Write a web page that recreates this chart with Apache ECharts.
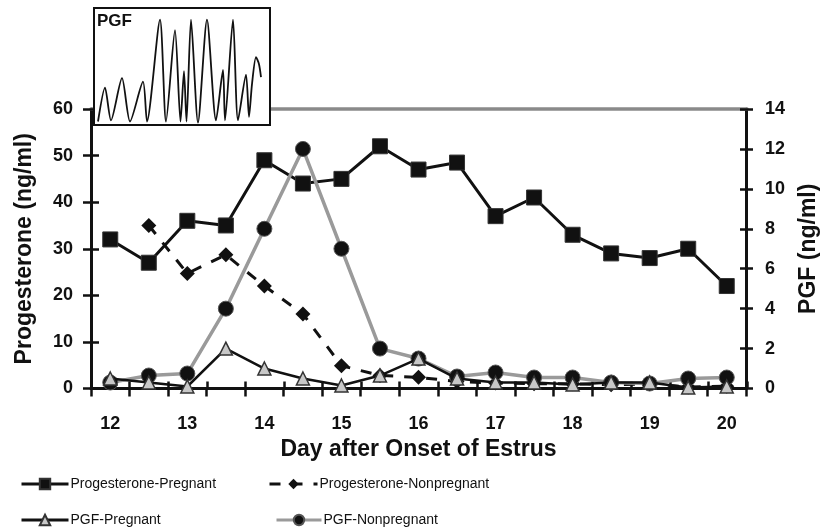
<!DOCTYPE html>
<html>
<head>
<meta charset="utf-8">
<script src="https://cdn.jsdelivr.net/npm/echarts@6/dist/echarts.min.js"></script>
<style>html,body{margin:0;padding:0;background:#fff;}#c{width:828px;height:531px;}</style>
</head>
<body>
<div id="c"></div>
<script>
var days = ['12','12.5','13','13.5','14','14.5','15','15.5','16','16.5','17','17.5','18','18.5','19','19.5','20'];
var progPregnant    = [32, 27, 36, 35, 49, 44, 45, 52, 47, 48.5, 37, 41, 33, 29, 28, 30, 22];
var progNonpregnant = [null, 35, 24.7, 28.7, 22, 16, 4.9, 2.8, 2.4, 1.5, 1.2, 1.0, 1.0, 0.8, 1.0, 0.3, 0.5];
var pgfPregnant     = [0.5, 0.3, 0.1, 2.0, 1.0, 0.5, 0.15, 0.65, 1.5, 0.5, 0.3, 0.3, 0.2, 0.3, 0.3, 0.05, 0.1];
var pgfNonpregnant  = [0.3, 0.65, 0.75, 4, 8, 12, 7, 2, 1.5, 0.6, 0.8, 0.55, 0.55, 0.3, 0.25, 0.5, 0.55];
var progTicks = [0, 10, 20, 30, 40, 50, 60];
var pgfTicks = [0, 2, 4, 6, 8, 10, 12, 14];
var pulseX = [4, 11, 17, 28, 36, 49, 53, 66, 72, 81, 86.5, 90, 92.5, 97, 104, 113, 122, 129, 131, 139, 144, 152, 155, 158, 162, 165, 167];
var pulseY = [3, 32, 4, 40, 3, 37, 3, 90, 3, 81, 3, 46, 3, 90, 2, 90, 4, 47, 4, 90, 4, 43, 7, 35, 58, 52, 41];

var pulseData = pulseX.map(function (x, i) { return [x, pulseY[i]]; });
var FONT = 'Liberation Sans';
var tickLbl = { color: '#111', fontSize: 18, fontWeight: 'bold', fontFamily: FONT };
var tickStyle = { color: '#111', width: 2.5 };

function legendAt(name, left, top, w) {
  return {
    data: [name], left: left, top: top, itemWidth: w, itemHeight: 13, padding: 0,
    lineStyle: { width: 3 },
    textStyle: { fontFamily: FONT, fontSize: 14, color: '#111', padding: [0, 0, 0, -3] },
    selectedMode: false
  };
}

var chart = echarts.init(document.getElementById('c'), null, { renderer: 'canvas' });
chart.setOption({
  animation: false,
  backgroundColor: '#fff',
  textStyle: { fontFamily: FONT },
  title: {
    text: 'PGF', left: 97, top: 13, z: 12, padding: 0,
    textStyle: { fontSize: 17, fontWeight: 'bold', color: '#111', fontFamily: FONT }
  },
  legend: [
    legendAt('Progesterone-Pregnant', 20, 477, 47),
    legendAt('Progesterone-Nonpregnant', 268, 477, 48),
    legendAt('PGF-Pregnant', 20, 513, 47),
    legendAt('PGF-Nonpregnant', 275, 513, 45)
  ],
  grid: [
    { left: 91, right: 81, top: 109, bottom: 142.5 },
    { left: 94, top: 8, width: 176, height: 117, show: true, backgroundColor: '#fff',
      borderColor: '#111', borderWidth: 2, z: 10 },
    { left: 91, right: 81, top: 109, bottom: 142.5 }
  ],
  xAxis: [
    { type: 'category', data: days, gridIndex: 0, boundaryGap: true, position: 'bottom',
      name: 'Day after Onset of Estrus', nameLocation: 'middle', nameGap: 47,
      nameTextStyle: { fontSize: 23, fontWeight: 'bold', color: '#111', fontFamily: FONT },
      axisLine: { onZero: false, lineStyle: { color: '#111', width: 3 } },
      axisTick: { show: true, interval: 0, length: 8, lineStyle: tickStyle },
      axisLabel: Object.assign({ interval: 1, margin: 27 }, tickLbl),
      splitLine: { show: false } },
    { type: 'value', gridIndex: 1, min: 0, max: 176, show: false },
    { type: 'category', data: days, gridIndex: 2, boundaryGap: true, position: 'bottom',
      axisLine: { show: false, onZero: false },
      axisTick: { show: true, inside: true, interval: 0, length: 7, lineStyle: tickStyle },
      axisLabel: { show: false }, splitLine: { show: false } },
    { type: 'category', data: days, gridIndex: 2, position: 'top',
      axisLine: { show: true, onZero: false, lineStyle: { color: '#8a8a8a', width: 3.5 } },
      axisTick: { show: false }, axisLabel: { show: false }, splitLine: { show: false } }
  ],
  yAxis: [
    { type: 'value', gridIndex: 0, min: progTicks[0], max: progTicks[progTicks.length - 1], interval: 10,
      position: 'left',
      name: 'Progesterone (ng/ml)', nameLocation: 'middle', nameGap: 55,
      nameTextStyle: { fontSize: 23, fontWeight: 'bold', color: '#111', fontFamily: FONT },
      axisLine: { show: true, onZero: false, lineStyle: { color: '#111', width: 3 } },
      axisTick: { show: true, length: 8, lineStyle: tickStyle },
      axisLabel: Object.assign({ margin: 18 }, tickLbl),
      splitLine: { show: false } },
    { type: 'value', gridIndex: 0, min: pgfTicks[0], max: pgfTicks[pgfTicks.length - 1], interval: 2,
      position: 'right',
      name: 'PGF (ng/ml)', nameLocation: 'middle', nameGap: 51,
      nameTextStyle: { fontSize: 23, fontWeight: 'bold', color: '#111', fontFamily: FONT },
      axisLine: { show: true, onZero: false, lineStyle: { color: '#111', width: 3 } },
      axisTick: { show: true, length: 7, lineStyle: tickStyle },
      axisLabel: Object.assign({ margin: 19 }, tickLbl),
      splitLine: { show: false } },
    { type: 'value', gridIndex: 1, min: 0, max: 100, show: false },
    { type: 'value', gridIndex: 2, min: 0, max: 60, interval: 10, position: 'left',
      axisLine: { show: false, onZero: false },
      axisTick: { show: true, inside: true, length: 8, lineStyle: tickStyle },
      axisLabel: { show: false }, splitLine: { show: false } },
    { type: 'value', gridIndex: 2, min: 0, max: 14, interval: 2, position: 'right',
      axisLine: { show: false, onZero: false },
      axisTick: { show: true, inside: true, length: 7, lineStyle: tickStyle },
      axisLabel: { show: false }, splitLine: { show: false } }
  ],
  series: [
    { name: 'Progesterone-Pregnant', type: 'line', xAxisIndex: 0, yAxisIndex: 0, data: progPregnant,
      symbol: 'rect', symbolSize: 15, z: 2,
      lineStyle: { color: '#111', width: 3 },
      itemStyle: { color: '#111', borderColor: '#333', borderWidth: 1 } },
    { name: 'Progesterone-Nonpregnant', type: 'line', xAxisIndex: 0, yAxisIndex: 0, data: progNonpregnant,
      symbol: 'diamond', symbolSize: 15, z: 3, connectNulls: false,
      lineStyle: { color: '#111', width: 3, type: [11, 11] },
      itemStyle: { color: '#111' } },
    { name: 'PGF-Nonpregnant', type: 'line', xAxisIndex: 0, yAxisIndex: 1, data: pgfNonpregnant,
      symbol: 'circle', symbolSize: 15, z: 4,
      lineStyle: { color: '#9a9a9a', width: 3.5 },
      itemStyle: { color: '#111', borderColor: '#555', borderWidth: 1 } },
    { name: 'PGF-Pregnant', type: 'line', xAxisIndex: 0, yAxisIndex: 1, data: pgfPregnant,
      symbol: 'triangle', symbolSize: 13, z: 5,
      lineStyle: { color: '#111', width: 2.5 },
      itemStyle: { color: '#c8c8c8', borderColor: '#333', borderWidth: 1.5 } },
    { name: 'pulses', type: 'line', xAxisIndex: 1, yAxisIndex: 2, data: pulseData,
      symbol: 'none', smooth: 0.25, z: 11, silent: true,
      lineStyle: { color: '#111', width: 1.8 } }
  ]
});
</script>
</body>
</html>
